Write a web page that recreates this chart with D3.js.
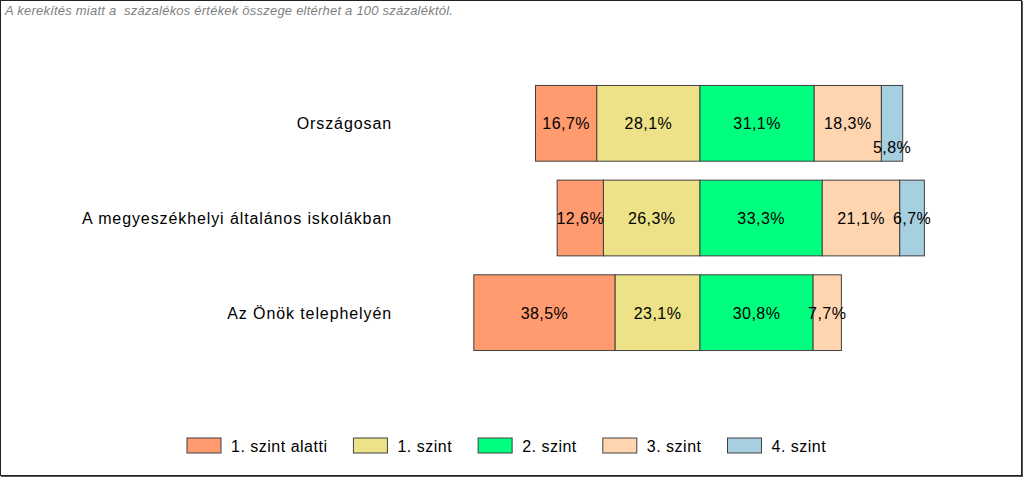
<!DOCTYPE html>
<html><head><meta charset="utf-8">
<script src="https://cdn.jsdelivr.net/npm/d3@7"></script>
<style>body{margin:0;background:#fff}svg{display:block}</style>
</head><body><svg id="c" width="1024" height="478"></svg>
<script>
const categories = ["Országosan", "A megyeszékhelyi általános iskolákban", "Az Önök telephelyén"];
const seriesNames = ["1. szint alatti", "1. szint", "2. szint", "3. szint", "4. szint"];
const below = [16.7, 12.6, 38.5];
const level1 = [28.1, 26.3, 23.1];
const level2 = [31.1, 33.3, 30.8];
const level3 = [18.3, 21.1, 7.7];
const level4 = [5.8, 6.7, 0];
const colors = ["#FF9B6E", "#EDE288", "#00FF7F", "#FFD5B0", "#A6CFE0"];
const note = "A kerekítés miatt a  százalékos értékek összege eltérhet a 100 százaléktól.";

const svg = d3.select("#c");
const font = "'Liberation Sans', Arial, sans-serif";
const fmt = v => d3.format(".1f")(v).replace(".", ",") + "%";

// frame
svg.append("rect").attr("x",0.5).attr("y",0.5).attr("width",1021).attr("height",475)
  .attr("fill","#fff").attr("stroke","#222").attr("stroke-width",1);
svg.append("line").attr("x1",1022).attr("x2",1022).attr("y1",1).attr("y2",476).attr("stroke","#222").attr("stroke-width",1.5);
svg.append("line").attr("x1",1).attr("x2",1023).attr("y1",476).attr("y2",476).attr("stroke","#222").attr("stroke-width",1.5);

svg.append("text").attr("x",5).attr("y",15).attr("font-family",font).attr("font-style","italic")
  .attr("font-size",13).attr("letter-spacing",0.22).attr("fill","#7f7f7f")
  .attr("xml:space","preserve").text(note);

const x = d3.scaleLinear().domain([-70, 70]).range([700 - 70*3.672, 700 + 70*3.672]);
const y = d3.scaleBand().domain(categories).range([76, 360]).paddingInner(0.2).paddingOuter(0.1);

const series = [below, level1, level2, level3, level4];
const rows = categories.map((c, i) => {
  const vals = series.map(s => s[i]);
  let start = -(vals[0] + vals[1]);
  const segs = vals.map((v, k) => { const s = {cat:c, k, v, x0:start, x1:start+v}; start += v; return s; });
  return segs.filter(s => s.v > 0);
});

rows.forEach(segs => {
  const g = svg.append("g");
  g.selectAll("rect").data(segs).join("rect")
    .attr("x", d => x(d.x0)).attr("width", d => x(d.x1) - x(d.x0))
    .attr("y", d => y(d.cat)).attr("height", y.bandwidth())
    .attr("fill", d => colors[d.k]).attr("stroke", "#404040").attr("stroke-width", 1);
  let prevEnd = -Infinity;
  segs.forEach(d => {
    const cx = (x(d.x0) + x(d.x1)) / 2;
    const t = g.append("text").attr("x", cx).attr("y", y(d.cat) + y.bandwidth()/2 + 6)
      .attr("text-anchor","middle").attr("font-family",font).attr("font-size",16)
      .attr("letter-spacing",0.45).attr("fill","#000")
      .text(fmt(d.v));
    const w = t.node().getComputedTextLength();
    if (cx - w/2 < prevEnd + 3) t.attr("y", y(d.cat) + y.bandwidth()/2 + 30);
    prevEnd = cx + w/2;
  });
});

svg.append("g").selectAll("text").data(categories).join("text")
  .attr("x", 392).attr("y", d => y(d) + y.bandwidth()/2 + 6).attr("text-anchor","end")
  .attr("font-family",font).attr("font-size",16).attr("letter-spacing",0.9)
  .attr("fill","#000").text(d => d);

// legend
const lg = svg.append("g");
let lx = 187;
seriesNames.forEach((n, k) => {
  lg.append("rect").attr("x", lx).attr("y", 438).attr("width", 34).attr("height", 15)
    .attr("fill", colors[k]).attr("stroke", "#404040");
  const t = lg.append("text").attr("x", lx + 44).attr("y", 452).attr("font-family",font)
    .attr("font-size",16).attr("letter-spacing",0.5).attr("fill","#000").text(n);
  lx += 44 + t.node().getComputedTextLength() + 26;
});
</script></body></html>
